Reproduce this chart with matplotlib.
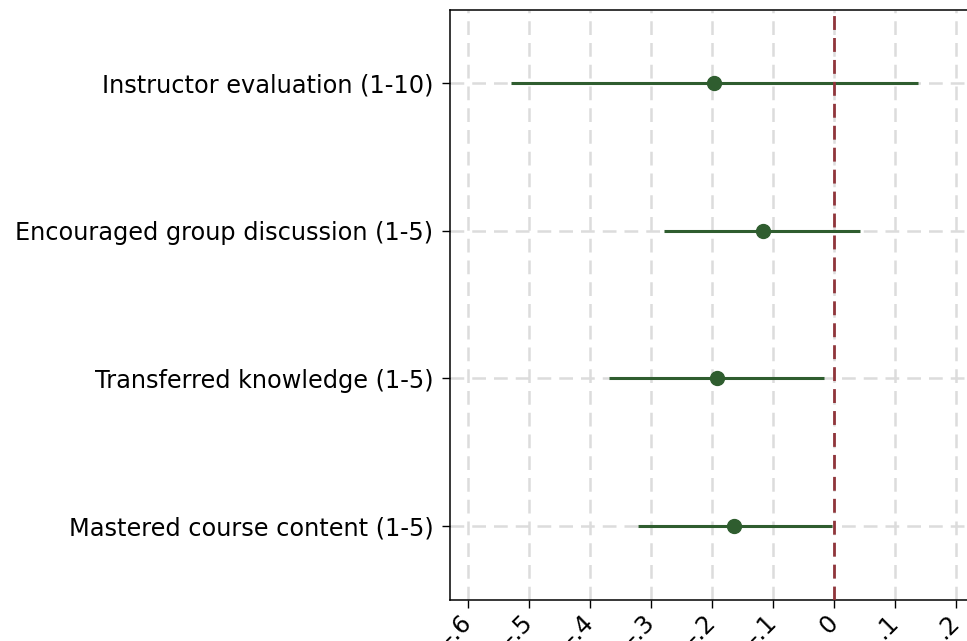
import matplotlib
matplotlib.use("Agg")
import matplotlib.pyplot as plt

# coefficient plot data
labels = ["Instructor evaluation (1-10)",
          "Encouraged group discussion (1-5)",
          "Transferred knowledge (1-5)",
          "Mastered course content (1-5)"]
coef = [-0.196, -0.117, -0.192, -0.164]
ci_low = [-0.530, -0.279, -0.369, -0.321]
ci_high = [0.137, 0.043, -0.016, -0.003]

xticks = [-0.6, -0.5, -0.4, -0.3, -0.2, -0.1, 0.0, 0.1, 0.2]
xticklabels = ["-.6", "-.5", "-.4", "-.3", "-.2", "-.1", "0", ".1", ".2"]

green = "#2f5d2f"
red = "#90353b"
grid_col = "#dcdcdc"

plt.rcParams['font.family'] = ['DejaVu Sans']

fig = plt.figure(figsize=(9.67, 6.41), dpi=100)
ax = fig.add_axes([0.4654, 0.0647, 0.5346, 0.9204])

ypos = list(range(1, len(labels) + 1))

# dashed grid
for x in xticks:
  ax.axvline(x, color=grid_col, lw=1.8, dashes=(5.5, 3.2), zorder=0)
for y in ypos:
  ax.axhline(y, color=grid_col, lw=1.8, dashes=(5.5, 3.2), zorder=0)

ax.hlines(ypos, ci_low, ci_high, color=green, lw=2.2, zorder=2)
ax.axvline(0, color=red, lw=2.0, dashes=(5, 2.9), zorder=3)
ax.plot(coef, ypos, "o", color=green, ms=10, zorder=4)

ax.set_xlim(-0.6295, 0.218)
ax.set_ylim(4.5, 0.5)

ax.set_yticks(ypos)
ax.set_yticklabels(labels, fontsize=17.3)
ax.set_xticks(xticks)
ax.set_xticklabels(xticklabels, fontsize=17.3, rotation=45,
                   rotation_mode="anchor", ha="right", va="center")

ax.tick_params(axis="both", length=6, width=1, color="black", pad=6)
ax.tick_params(axis="x", pad=8)
for side in ["left", "bottom", "top"]:
  ax.spines[side].set_linewidth(1.1)
ax.spines["right"].set_visible(False)

fig.savefig("out.png", dpi=100)
